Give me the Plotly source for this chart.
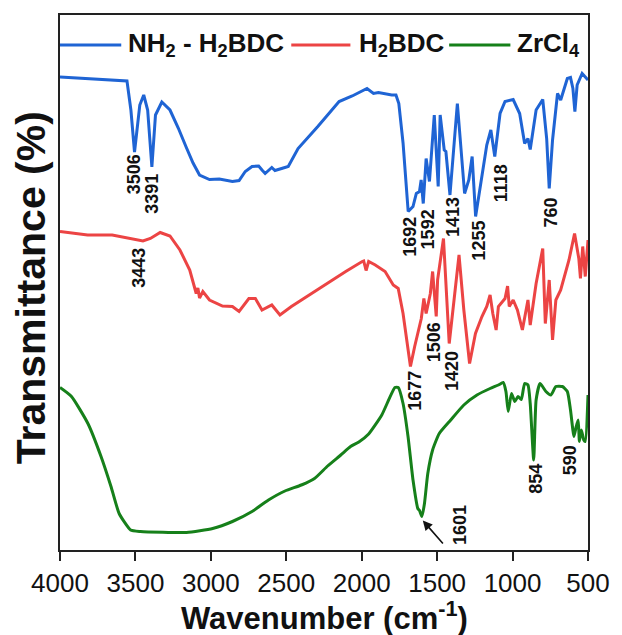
import plotly.graph_objects as go

# FTIR spectra (transmittance, stacked, arbitrary offsets)
wn_nh2 = [4000, 3739, 3556, 3530, 3506, 3471, 3445, 3419, 3391, 3367, 3325, 3271, 3216, 3164,
          3118, 3075, 3009, 2944, 2857, 2813, 2772, 2727, 2683, 2661, 2640, 2596, 2575, 2531,
          2487, 2422, 2291, 2150, 2063, 1965, 1922, 1889, 1801, 1773, 1754, 1726, 1692, 1660,
          1638, 1617, 1606, 1592, 1573, 1551, 1519, 1493, 1480, 1453, 1442, 1415, 1366, 1318,
          1290, 1268, 1245, 1171, 1144, 1118, 1083, 1050, 996, 953, 920, 898, 883, 844, 800,
          774, 757, 735, 702, 681, 637, 616, 600, 587, 572, 539, 500]
t_nh2 = [94.6, 94.2, 93.8, 88.0, 79.6, 89.0, 91.0, 88.0, 76.6, 87.0, 89.6, 88.0, 84.4, 80.6,
         77.4, 75.0, 74.1, 74.2, 73.7, 73.9, 75.7, 76.7, 76.8, 76.0, 75.3, 76.5, 75.9, 76.3,
         76.7, 80.3, 84.7, 89.7, 90.8, 92.3, 91.3, 91.5, 91.0, 91.0, 89.3, 81.4, 67.7, 68.7,
         71.3, 71.7, 74.0, 69.3, 78.3, 73.7, 87.0, 72.7, 87.0, 80.0, 79.7, 71.0, 89.3, 71.3,
         74.0, 78.7, 66.7, 81.0, 84.0, 78.7, 87.3, 89.7, 90.1, 87.3, 81.3, 82.3, 80.1, 88.0, 90.1,
         82.3, 72.3, 82.0, 91.3, 90.0, 94.3, 94.5, 92.3, 87.7, 93.0, 95.3, 94.0]

wn_bdc = [4000, 3817, 3654, 3450, 3401, 3336, 3271, 3205, 3140, 3107, 3097, 3086, 3075, 3053,
          3009, 2923, 2857, 2813, 2748, 2705, 2661, 2596, 2542, 2466, 2313, 2183, 2106, 1997,
          1987, 1971, 1954, 1910, 1845, 1791, 1758, 1726, 1677, 1649, 1605, 1588, 1573, 1545,
          1530, 1506, 1497, 1458, 1436, 1420, 1388, 1355, 1323, 1285, 1246, 1203, 1171, 1149,
          1131, 1109, 1094, 1050, 1033, 1022, 996, 968, 935, 920, 898, 883, 844, 800, 783, 757,
          735, 713, 681, 626, 589, 561, 550, 535, 518, 500]
t_bdc = [63.7, 63.0, 63.0, 61.8, 62.3, 63.5, 62.8, 60.0, 56.0, 52.3, 51.3, 52.4, 50.4, 51.7,
         50.0, 48.8, 48.7, 47.7, 50.3, 50.3, 48.0, 49.0, 47.0, 48.7, 51.7, 54.3, 55.7, 57.7,
         57.8, 55.9, 57.7, 57.0, 55.7, 53.0, 52.3, 47.3, 36.7, 40.7, 46.3, 50.3, 47.3, 51.3,
         55.7, 46.7, 54.0, 62.3, 50.0, 41.3, 50.0, 59.0, 48.0, 37.3, 43.3, 46.7, 48.7, 51.0,
         47.3, 44.0, 48.7, 50.3, 52.8, 48.7, 50.0, 48.0, 44.0, 46.7, 50.0, 45.0, 53.3, 60.3, 45.3,
         54.0, 42.0, 50.0, 52.0, 58.0, 63.3, 58.3, 54.3, 60.7, 54.7, 62.0]

wn_zr = [4000, 3924, 3815, 3728, 3662, 3608, 3532, 3467, 3162, 2988, 2857, 2727, 2618, 2509,
         2400, 2313, 2226, 2139, 2074, 2019, 1954, 1867, 1780, 1758, 1726, 1693, 1660, 1628,
         1617, 1601, 1584, 1562, 1530, 1486, 1410, 1323, 1236, 1149, 1094, 1062, 1044, 1029,
         1007, 985, 964, 942, 920, 898, 883, 860, 844, 818, 779, 746, 713, 670, 637, 616, 593,
         578, 565, 557, 544, 528, 518, 500]
t_zr = [32.5, 30.7, 25.3, 18.7, 12.7, 7.3, 4.0, 3.7, 3.5, 4.3, 5.7, 7.7, 10.0, 11.8,
        13.0, 14.3, 16.8, 19.0, 20.7, 21.6, 23.2, 27.0, 32.5, 32.5, 29.3, 22.7, 14.0, 8.3,
        7.9, 6.7, 9.3, 15.3, 20.0, 23.3, 26.0, 29.0, 31.0, 32.3, 33.0, 33.5, 31.7, 27.7,
        31.3, 29.7, 30.7, 30.1, 33.3, 33.0, 29.3, 18.0, 30.0, 33.3, 31.7, 31.0, 32.7, 32.7,
        31.7, 28.0, 22.7, 24.7, 26.0, 21.7, 24.0, 22.0, 21.7, 31.0]

# Peak labels: text, wavenumber position, transmittance position
peak_text = ["3506", "3391", "1692", "1592", "1413", "1255", "1118", "760",
             "3443", "1677", "1506", "1420",
             "854", "590"]
peak_x = [3508, 3391, 1682, 1558, 1395, 1225, 1075, 742,
          3478, 1649, 1519, 1401,
          846, 617]
peak_y = [75.2, 71.2, 62.6, 64.2, 66.6, 61.8, 73.4, 67.6,
          56.4, 31.8, 41.6, 35.8,
          14.2, 18.0]

series_names = ["NH<sub>2</sub> - H<sub>2</sub>BDC", "H<sub>2</sub>BDC", "ZrCl<sub>4</sub>"]
colors = ["#1f64d4", "#ec4444", "#16801a"]

FONT = "Arial, Liberation Sans, sans-serif"

fig = go.Figure()
fig.add_trace(go.Scatter(x=wn_nh2, y=t_nh2, mode="lines", name=series_names[0],
                         line=dict(color=colors[0], width=3)))
fig.add_trace(go.Scatter(x=wn_bdc, y=t_bdc, mode="lines", name=series_names[1],
                         line=dict(color=colors[1], width=3)))
fig.add_trace(go.Scatter(x=wn_zr, y=t_zr, mode="lines", name=series_names[2],
                         line=dict(color=colors[2], width=3, shape="spline", smoothing=0.5)))

for txt, px, py in zip(peak_text, peak_x, peak_y):
    fig.add_annotation(x=px, y=py, text=txt, textangle=-90, showarrow=False,
                       xanchor="center", yanchor="middle",
                       font=dict(family=FONT, size=18, color="#111", weight="bold"))

# 1601 label with arrow
fig.add_annotation(x=1349, y=5, text="1601", textangle=-90, showarrow=False,
                   font=dict(family=FONT, size=18, color="#111", weight="bold"))
fig.add_annotation(x=1595, y=5.9, ax=1453, ay=1.0, axref="x", ayref="y",
                   text="", showarrow=True, arrowhead=2, arrowsize=1.2,
                   arrowwidth=1.6, arrowcolor="#111")

# Legend row drawn inside the frame
legend_rows = [(0.0, 0.116, 0.125), (0.438, 0.550, 0.563), (0.737, 0.853, 0.862)]
for (x0, x1, xt), name, col in zip(legend_rows, series_names, colors):
    fig.add_shape(type="line", xref="paper", yref="paper", x0=x0, x1=x1,
                  y0=0.944, y1=0.944, line=dict(color=col, width=3))
    fig.add_annotation(xref="paper", yref="paper", x=xt, y=0.944, text=name,
                       showarrow=False, xanchor="left", yanchor="middle",
                       font=dict(family=FONT, size=26, color="#111", weight="bold"))

# Axis titles
fig.add_annotation(xref="paper", yref="paper", x=0.5, y=-0.123,
                   text="Wavenumber (cm<sup>-1</sup>)", showarrow=False,
                   xanchor="center", yanchor="middle",
                   font=dict(family=FONT, size=31, color="#111", weight="bold"))
fig.add_annotation(xref="paper", yref="paper", x=-0.056, y=0.49,
                   text="Transmittance (%)", textangle=-90, showarrow=False,
                   xanchor="center", yanchor="middle",
                   font=dict(family=FONT, size=41, color="#111", weight="bold"))

fig.update_layout(
    width=622, height=635,
    margin=dict(l=60, r=26, t=15, b=85),
    paper_bgcolor="white", plot_bgcolor="white",
    showlegend=False,
    xaxis=dict(range=[4000, 500], tickvals=[4000, 3500, 3000, 2500, 2000, 1500, 1000, 500],
               ticks="outside", ticklen=9, tickwidth=2, tickcolor="#222",
               showline=True, linecolor="#222", linewidth=2, mirror=True,
               showgrid=False, zeroline=False,
               tickfont=dict(family=FONT, size=26, color="#111")),
    yaxis=dict(range=[0, 107], showticklabels=False, ticks="",
               showline=True, linecolor="#222", linewidth=2, mirror=True,
               showgrid=False, zeroline=False),
)

fig.write_html("out.html")
